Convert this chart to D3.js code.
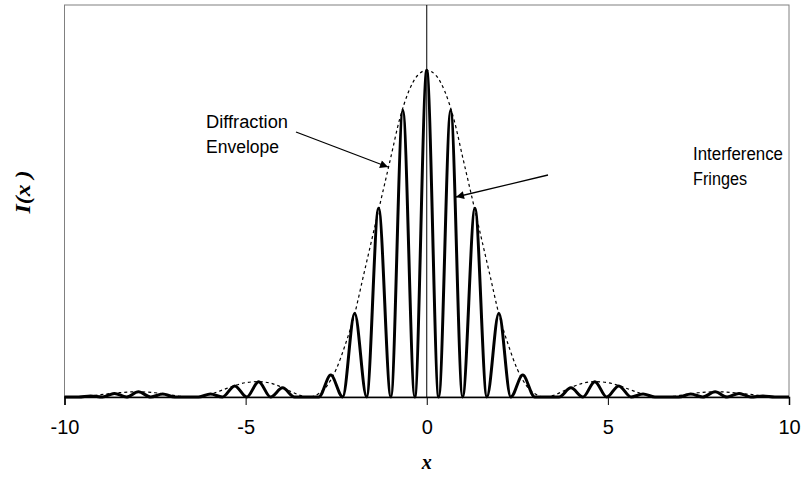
<!DOCTYPE html>
<html>
<head>
<meta charset="utf-8">
<script src="https://cdn.jsdelivr.net/npm/d3@7"></script>
<style>
    body { margin: 0; background: #ffffff; }
    svg { display: block; }
</style>
</head>
<body>
<div id="chart"></div>
<script>
// tick values of the x axis
const xTicks = [-10, -5, 0, 5, 10];

// interference fringes (solid line)
const fringeX = [-10, -9.61, -9.28, -8.95, -8.62, -8.29, -7.96, -7.62, -7.29, -6.96,
    -6.30, -5.97, -5.64, -5.30, -4.97, -4.64, -4.31, -3.98, -3.65,
    -2.98, -2.65, -2.32, -1.99, -1.66, -1.33, -0.99, -0.66, -0.33,
    0,
    0.33, 0.66, 0.99, 1.33, 1.66, 1.99, 2.32, 2.65, 2.98,
    3.65, 3.98, 4.31, 4.64, 4.97, 5.30, 5.64, 5.97, 6.30,
    6.96, 7.29, 7.62, 7.96, 8.29, 8.62, 8.95, 9.28, 9.61, 10];
const fringeI = [0, 0, 0.003, 0, 0.011, 0, 0.016, 0, 0.009, 0,
    0, 0.009, 0, 0.034, 0, 0.047, 0, 0.028, 0,
    0, 0.067, 0, 0.256, 0, 0.578, 0, 0.878, 0,
    1.0,
    0, 0.878, 0, 0.578, 0, 0.256, 0, 0.067, 0,
    0, 0.028, 0, 0.047, 0, 0.034, 0, 0.009, 0,
    0, 0.009, 0, 0.016, 0, 0.011, 0, 0.003, 0, 0];

// diffraction envelope (dashed line)
const envX = [-10, -9.75, -9.4, -9.0, -8.5, -8.0, -7.5, -7.1, -6.8, -6.5,
    -6.2, -5.9, -5.6, -5.3, -5.0, -4.65, -4.3, -4.0, -3.75, -3.5, -3.25,
    -3.0, -2.75, -2.5, -2.25, -2.0, -1.75, -1.5, -1.25, -1.0, -0.75, -0.5, -0.25,
    0,
    0.25, 0.5, 0.75, 1.0, 1.25, 1.5, 1.75, 2.0, 2.25, 2.5, 2.75, 3.0,
    3.25, 3.5, 3.75, 4.0, 4.3, 4.65, 5.0, 5.3, 5.6, 5.9, 6.2,
    6.5, 6.8, 7.1, 7.5, 8.0, 8.5, 9.0, 9.4, 9.75, 10];
const envI = [0.001, 0, 0.002, 0.007, 0.013, 0.016, 0.013, 0.007, 0.002, 0,
    0.003, 0.011, 0.023, 0.035, 0.044, 0.047, 0.042, 0.03, 0.017, 0.005, 0,
    0.009, 0.035, 0.085, 0.16, 0.25, 0.37, 0.49, 0.61, 0.73, 0.85, 0.935, 0.985,
    1.0,
    0.985, 0.935, 0.85, 0.73, 0.61, 0.49, 0.37, 0.25, 0.16, 0.085, 0.035, 0.009,
    0, 0.005, 0.017, 0.03, 0.042, 0.047, 0.044, 0.035, 0.023, 0.011, 0.003,
    0, 0.002, 0.007, 0.013, 0.016, 0.013, 0.007, 0.002, 0, 0.001];

// set the dimensions of the picture and the plot box
const width = 803,
    height = 481;
const plot = { left: 64.5, right: 789, top: 5, bottom: 397 };

const svg = d3.select("#chart")
    .append("svg")
    .attr("width", width)
    .attr("height", height);

// scales
const x = d3.scaleLinear().domain([-10, 10]).range([plot.left, plot.right]);
const y = d3.scaleLinear().domain([0, 1.2]).range([plot.bottom, plot.top]);

// plot box (grey frame)
svg.append("rect")
    .attr("x", plot.left)
    .attr("y", plot.top)
    .attr("width", plot.right - plot.left)
    .attr("height", plot.bottom - plot.top)
    .attr("fill", "none")
    .attr("stroke", "#808080")
    .attr("stroke-width", 1);

// x axis at I = 0, ticks pointing down
const xAxis = d3.axisBottom(x)
    .tickValues(xTicks)
    .tickSize(8)
    .tickPadding(15)
    .tickFormat(d => String(d));   // plain hyphen like the original

const gx = svg.append("g")
    .attr("transform", `translate(0,${y(0)})`)
    .call(xAxis);
gx.select(".domain").attr("stroke", "#000").attr("stroke-width", 1.5);
gx.selectAll(".tick line").attr("stroke", "#000").attr("stroke-width", 1);
gx.selectAll(".tick text")
    .attr("fill", "#000")
    .style("font-family", "'Liberation Sans', Arial, sans-serif")
    .style("font-size", "20px");

// vertical line through x = 0 (y axis of the chart)
svg.append("line")
    .attr("x1", x(0)).attr("x2", x(0))
    .attr("y1", plot.top).attr("y2", y(0))
    .attr("stroke", "#000")
    .attr("stroke-width", 1);

// line generators
const fringeLine = d3.line()
    .x((d, i) => x(fringeX[i]))
    .y(d => y(d))
    .curve(d3.curveMonotoneX);

const envLine = d3.line()
    .x((d, i) => x(envX[i]))
    .y(d => y(d))
    .curve(d3.curveMonotoneX);

// dashed envelope
svg.append("path")
    .datum(envI)
    .attr("d", envLine)
    .attr("fill", "none")
    .attr("stroke", "#000")
    .attr("stroke-width", 1.2)
    .attr("stroke-dasharray", "3,3");

// fringes
svg.append("path")
    .datum(fringeI)
    .attr("d", fringeLine)
    .attr("fill", "none")
    .attr("stroke", "#000")
    .attr("stroke-width", 3)
    .attr("stroke-linejoin", "round");

// arrow head marker
svg.append("defs")
    .append("marker")
    .attr("id", "arrow")
    .attr("viewBox", "0 0 10 10")
    .attr("refX", 10)
    .attr("refY", 5)
    .attr("markerWidth", 10)
    .attr("markerHeight", 8)
    .attr("markerUnits", "userSpaceOnUse")
    .attr("orient", "auto")
    .append("path")
    .attr("d", "M0,0L10,5L0,10Z")
    .attr("fill", "#000");

// annotations
const labelFont = "'Liberation Sans', Arial, sans-serif";

svg.append("text")
    .attr("x", 206).attr("y", 128)
    .style("font-family", labelFont)
    .style("font-size", "18px")
    .attr("textLength", 82)
    .attr("lengthAdjust", "spacingAndGlyphs")
    .text("Diffraction");
svg.append("text")
    .attr("x", 206).attr("y", 153)
    .style("font-family", labelFont)
    .style("font-size", "18px")
    .attr("textLength", 73)
    .attr("lengthAdjust", "spacingAndGlyphs")
    .text("Envelope");

svg.append("line")
    .attr("x1", 296).attr("y1", 132)
    .attr("x2", 388).attr("y2", 167)
    .attr("stroke", "#000")
    .attr("stroke-width", 1.3)
    .attr("marker-end", "url(#arrow)");

svg.append("text")
    .attr("x", 693).attr("y", 160)
    .style("font-family", labelFont)
    .style("font-size", "18px")
    .attr("textLength", 90)
    .attr("lengthAdjust", "spacingAndGlyphs")
    .text("Interference");
svg.append("text")
    .attr("x", 693).attr("y", 185)
    .style("font-family", labelFont)
    .style("font-size", "18px")
    .attr("textLength", 54)
    .attr("lengthAdjust", "spacingAndGlyphs")
    .text("Fringes");

svg.append("line")
    .attr("x1", 548).attr("y1", 175)
    .attr("x2", 456).attr("y2", 197)
    .attr("stroke", "#000")
    .attr("stroke-width", 1.3)
    .attr("marker-end", "url(#arrow)");

// axis titles
svg.append("text")
    .attr("x", x(0))
    .attr("y", 469)
    .attr("text-anchor", "middle")
    .style("font-family", "'Liberation Serif', 'Times New Roman', serif")
    .style("font-weight", "bold")
    .style("font-style", "italic")
    .style("font-size", "20px")
    .text("x");

svg.append("text")
    .attr("transform", "translate(30,192) rotate(-90)")
    .attr("text-anchor", "middle")
    .style("font-family", "'Liberation Serif', 'Times New Roman', serif")
    .style("font-weight", "bold")
    .style("font-style", "italic")
    .style("font-size", "22px")
    .attr("textLength", 43)
    .attr("lengthAdjust", "spacingAndGlyphs")
    .text("I(x )");
</script>
</body>
</html>
